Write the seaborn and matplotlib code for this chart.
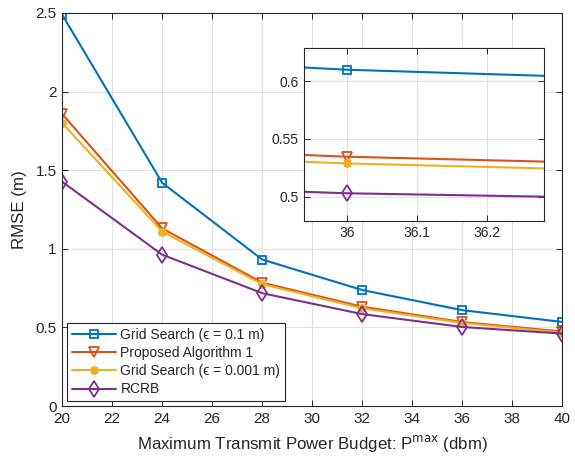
import numpy as np
import pandas as pd
import seaborn as sns
import matplotlib.pyplot as plt
from matplotlib.ticker import FuncFormatter

# data
power = [20, 24, 28, 32, 36, 40]
grid_01 = [2.49, 1.42, 0.932, 0.738, 0.610, 0.535]
proposed = [1.858, 1.13, 0.785, 0.632, 0.5346, 0.474]
grid_0001 = [1.80, 1.11, 0.775, 0.622, 0.5288, 0.467]
rcrb = [1.427, 0.963, 0.718, 0.585, 0.5029, 0.461]

names = ["Grid Search (ϵ = 0.1 m)", "Proposed Algorithm 1",
         "Grid Search (ϵ = 0.001 m)", "RCRB"]
colors = ["#0072BD", "#D95319", "#EDB120", "#7E2F8E"]
markers = ["s", "v", (8, 2, 0), "d"]
msizes = [5.5, 7.5, 6.5, 8]

df = pd.DataFrame({"P": power * 4,
                   "RMSE": grid_01 + proposed + grid_0001 + rcrb,
                   "method": sum([[n] * len(power) for n in names], [])})

sns.set_theme(style="whitegrid")
plt.rcParams['font.family'] = ['Liberation Sans', 'DejaVu Sans']

fig = plt.figure(figsize=(5.75, 4.62), dpi=100)
ax = fig.add_axes([0.108, 0.121, 0.870, 0.851])


def draw(a, lw=1.5):
    for n, c, m, s in zip(names, colors, markers, msizes):
        sub = df[df["method"] == n]
        sns.lineplot(data=sub, x="P", y="RMSE", ax=a, color=c, marker=m,
                     markersize=s, markerfacecolor="none", markeredgecolor=c,
                     markeredgewidth=1.3, linewidth=lw, label=n)


def style(a, fs):
    a.set_facecolor("white")
    a.grid(True, color="#e3e3e3", linewidth=0.8)
    for sp in a.spines.values():
        sp.set_color("#262626")
        sp.set_linewidth(0.8)
    a.tick_params(direction="in", length=4, width=0.7, colors="#262626",
                  labelsize=fs, top=True, right=True, bottom=True, left=True,
                  pad=4)
    a.yaxis.set_major_formatter(FuncFormatter(lambda v, p: "%g" % v))
    a.xaxis.set_major_formatter(FuncFormatter(lambda v, p: "%g" % v))


draw(ax)
style(ax, 11)
ax.set_xlim(20, 40)
ax.set_ylim(0, 2.5)
ax.set_xticks(np.arange(20, 41, 2))
ax.set_yticks(np.arange(0, 2.51, 0.5))
ax.set_xlabel("Maximum Transmit Power Budget: P$^{\\mathrm{max}}$ (dbm)",
              fontsize=12.2, color="#262626", labelpad=5)
ax.set_ylabel("RMSE (m)", fontsize=12.2, color="#262626", labelpad=6)
leg = ax.legend(loc="lower left", fontsize=10, frameon=True, fancybox=False,
                framealpha=1, edgecolor="#262626", borderpad=0.35,
                labelspacing=0.3, handlelength=3.2, handletextpad=0.3,
                borderaxespad=0.35)
leg.get_frame().set_linewidth(0.8)

# inset zoom around 36 dBm
ins = fig.add_axes([0.529, 0.522, 0.417, 0.374])
draw(ins)
style(ins, 10)
ins.set_xlim(35.939, 36.281)
ins.set_ylim(0.479, 0.6288)
ins.set_xticks([36, 36.1, 36.2])
ins.set_yticks([0.5, 0.55, 0.6])
ins.set_xlabel("")
ins.set_ylabel("")
ins.legend_.remove()

fig.savefig("out.png", dpi=100)
